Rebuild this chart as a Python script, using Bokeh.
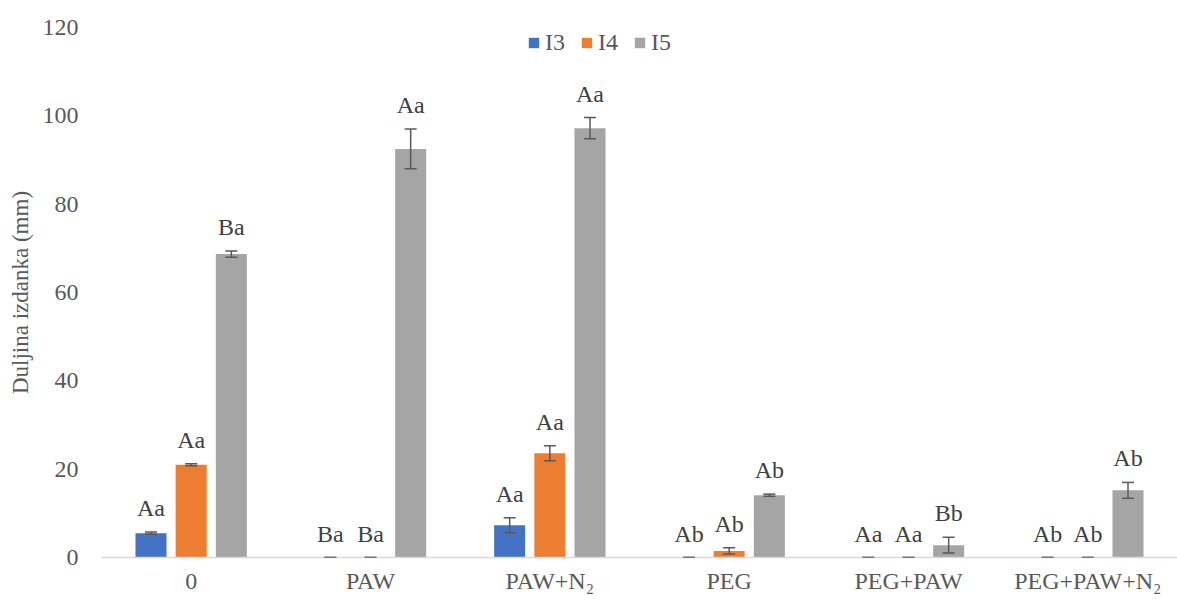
from bokeh.plotting import figure
from bokeh.models import ColumnDataSource, Whisker, TeeHead, Legend, LegendItem, FactorRange, Range1d, FixedTicker
from bokeh.transform import dodge
from bokeh.core.properties import value
from bokeh.embed import file_html
from bokeh.resources import INLINE

categories = ["0", "PAW", "PAW+N₂", "PEG", "PEG+PAW", "PEG+PAW+N₂"]
series = ["I3", "I4", "I5"]
i3 = [5.5, 0, 7.3, 0, 0, 0]
i3_err = [0.25, 0, 1.7, 0, 0, 0]
i4 = [21.0, 0, 23.6, 1.5, 0, 0]
i4_err = [0.25, 0, 1.7, 0.7, 0, 0]
i5 = [68.7, 92.5, 97.2, 14.1, 2.8, 15.2]
i5_err = [0.7, 4.5, 2.4, 0.25, 1.8, 1.8]
i3_lab = ["Aa", "Ba", "Aa", "Ab", "Aa", "Ab"]
i4_lab = ["Aa", "Ba", "Aa", "Ab", "Aa", "Ab"]
i5_lab = ["Ba", "Aa", "Aa", "Ab", "Bb", "Ab"]
y_ticks = [0, 20, 40, 60, 80, 100, 120]

colors = ["#4472C4", "#ED7D31", "#A5A5A5"]
offsets = [-0.224, 0.0, 0.224]
FONT = "'Liberation Serif', 'Times New Roman', serif"

data = {"cat": categories}
for name, vals, errs, labs in zip(series, [i3, i4, i5], [i3_err, i4_err, i5_err], [i3_lab, i4_lab, i5_lab]):
    data[name] = vals
    data[name + "_lo"] = [v - e for v, e in zip(vals, errs)]
    data[name + "_hi"] = [v + e for v, e in zip(vals, errs)]
    data[name + "_lab"] = labs
src = ColumnDataSource(data)

p = figure(width=1177, height=596, output_backend="svg", toolbar_location=None,
           x_range=FactorRange(factors=categories, range_padding=0),
           y_range=Range1d(0, 120),
           min_border_top=27, min_border_right=0, min_border_left=101, min_border_bottom=0)
p.outline_line_color = None
p.xgrid.grid_line_color = None
p.ygrid.grid_line_color = None

renderers = []
for name, col, off in zip(series, colors, offsets):
    r = p.vbar(x=dodge("cat", off, range=p.x_range), top=name, width=0.173, source=src,
               fill_color=col, line_color=None)
    renderers.append(r)
    w = Whisker(base=dodge("cat", off, range=p.x_range), lower=name + "_lo", upper=name + "_hi",
                source=src, line_color="#595959", line_width=1.5, level="overlay",
                upper_head=TeeHead(size=12, line_color="#595959", line_width=1.5),
                lower_head=TeeHead(size=12, line_color="#595959", line_width=1.5))
    p.add_layout(w)
    p.text(x=dodge("cat", off, range=p.x_range), y=name + "_hi", text=name + "_lab", source=src,
           text_font=value(FONT), text_font_size="24px", text_align="center",
           text_baseline="middle", y_offset=-24, text_color="#404040")

legend = Legend(items=[LegendItem(label=s, renderers=[r]) for s, r in zip(series, renderers)],
                orientation="horizontal", location=(426, 501),
                glyph_width=13, glyph_height=13, label_standoff=5, spacing=15,
                padding=0, margin=0, border_line_color=None, background_fill_alpha=0,
                label_text_font=FONT, label_text_font_size="24px", label_text_color="#595959")
p.add_layout(legend)

p.yaxis.ticker = FixedTicker(ticks=y_ticks)
p.yaxis.axis_line_color = None
p.yaxis.major_tick_line_color = None
p.yaxis.minor_tick_line_color = None
p.yaxis.major_tick_out = 0
p.yaxis.major_tick_in = 0
p.yaxis.minor_tick_out = 0
p.yaxis.major_label_standoff = 23
p.yaxis.major_label_text_font = FONT
p.yaxis.major_label_text_font_size = "24px"
p.yaxis.major_label_text_color = "#595959"
p.yaxis.axis_label = "Duljina izdanka (mm)"
p.yaxis.axis_label_text_font = FONT
p.yaxis.axis_label_text_font_size = "23px"
p.yaxis.axis_label_text_font_style = "normal"
p.yaxis.axis_label_text_color = "#595959"
p.yaxis.axis_label_standoff = 7

p.xaxis.axis_line_color = "#D9D9D9"
p.xaxis.axis_line_width = 1.5
p.xaxis.major_tick_line_color = None
p.xaxis.minor_tick_line_color = None
p.xaxis.major_tick_out = 0
p.xaxis.major_tick_in = 0
p.xaxis.minor_tick_out = 0
p.xaxis.axis_label_standoff = 0
p.xaxis.major_label_standoff = 10
p.xaxis.major_label_text_font = FONT
p.xaxis.major_label_text_font_size = "24px"
p.xaxis.major_label_text_color = "#595959"

open("out.html", "w").write(file_html(p, INLINE))
